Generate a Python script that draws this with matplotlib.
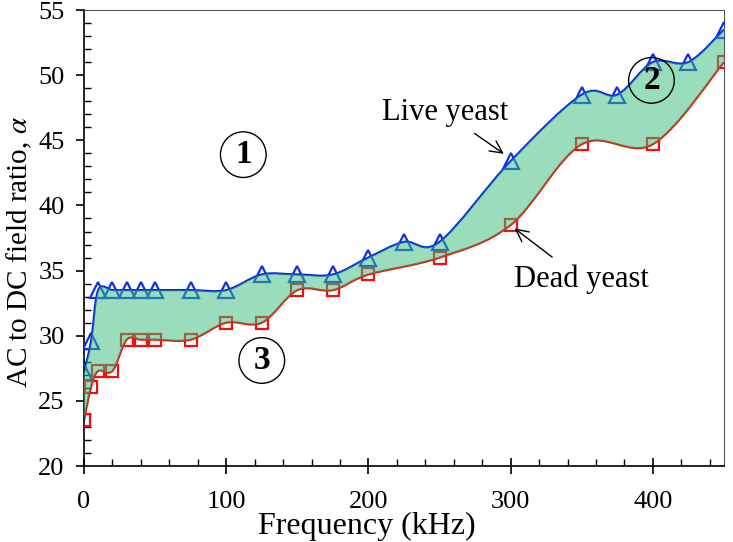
#!/usr/bin/env python3

import numpy as np
import matplotlib.pyplot as plt
from matplotlib.path import Path
from matplotlib.patches import PathPatch
from matplotlib.ticker import MultipleLocator

plt.rcParams.update({
    'font.family': 'Liberation Serif',
    'mathtext.fontset': 'stix',
})

# live yeast (triangles)
live_f = [0, 5, 10, 20, 30, 40, 50, 75, 100, 125, 150, 175, 200, 225, 250, 300, 350, 375, 400, 425, 450]
live_a = [27.2, 29.6, 33.5, 33.5, 33.5, 33.5, 33.5, 33.5, 33.5, 34.7, 34.7, 34.7, 36.0, 37.2, 37.2, 43.4, 48.5, 48.5, 51.0, 51.0, 53.5]

# dead yeast (squares)
dead_f = [0, 5, 10, 20, 30, 40, 50, 75, 100, 125, 150, 175, 200, 250, 300, 350, 400, 450]
dead_a = [23.5, 26.1, 27.3, 27.3, 29.7, 29.7, 29.7, 29.7, 31.0, 31.0, 33.5, 33.5, 34.7, 36.0, 38.5, 44.7, 44.7, 51.0]


def smooth_verts(xs, ys):
    # cubic bezier control points, spreadsheet style smoothing
    p = np.column_stack([xs, ys]).astype(float)
    n = len(p)
    verts = [p[0]]
    for i in range(n - 1):
        p0 = p[max(i - 1, 0)]
        p3 = p[min(i + 2, n - 1)]
        c1 = p[i] + (p[i + 1] - p0) / 6.0
        c2 = p[i + 1] - (p3 - p[i]) / 6.0
        verts += [c1, c2, p[i + 1]]
    return np.array(verts)


def curve_path(verts):
    codes = [Path.MOVETO] + [Path.CURVE4] * (len(verts) - 1)
    return Path(verts, codes)


fig = plt.figure(figsize=(7.33, 5.42), dpi=100)
ax = fig.add_axes([0.1146, 0.1402, 0.8731, 0.8413])

up = smooth_verts(live_f, live_a)
lo = smooth_verts(dead_f, dead_a)

ax.add_patch(PathPatch(curve_path(up), fill=False, edgecolor='#0a1ed2', lw=1.6, zorder=2))
ax.add_patch(PathPatch(curve_path(lo), fill=False, edgecolor='#d81e0a', lw=1.6, zorder=2))

ax.plot(live_f, live_a, ls='none', marker='^', ms=11, mfc='none', mec='#1030e8', mew=1.6, zorder=3)
ax.plot(dead_f, dead_a, ls='none', marker='s', ms=9, mfc='none', mec='#f01010', mew=1.6, zorder=3)

# shaded band between the two curves
band = np.vstack([up, lo[::-1]])
codes = ([Path.MOVETO] + [Path.CURVE4] * (len(up) - 1) +
         [Path.LINETO] + [Path.CURVE4] * (len(lo) - 1))
ax.add_patch(PathPatch(Path(band, codes), facecolor='#37bd7d', edgecolor='none', alpha=0.5, zorder=4))

ax.set_xlim(0, 450)
ax.set_ylim(20, 55)
ax.xaxis.set_major_locator(MultipleLocator(100))
ax.xaxis.set_minor_locator(MultipleLocator(20))
ax.yaxis.set_major_locator(MultipleLocator(5))
ax.yaxis.set_minor_locator(MultipleLocator(1))
ax.tick_params(axis='x', which='major', direction='inout', length=12, width=1.2, labelsize=19, pad=12)
ax.tick_params(axis='y', which='major', direction='out', length=6, width=1.2, labelsize=19, pad=8)
ax.tick_params(which='minor', direction='in', length=5, width=1.0)
ax.tick_params(top=False, right=False, which='both')
for s in ['top', 'right']:
    ax.spines[s].set_color('#555555')
    ax.spines[s].set_linewidth(0.8)
for s in ['left', 'bottom']:
    ax.spines[s].set_linewidth(1.2)

ax.set_xlabel('Frequency (kHz)', fontsize=23)
ax.xaxis.set_label_coords(0.442, -0.1)
ax.set_ylabel(r'AC to DC field ratio, $\alpha$', fontsize=21)
ax.yaxis.set_label_coords(-0.078, 0.47)

circ = dict(boxstyle='circle,pad=0.22', fc='white', ec='black', lw=1.0)
ax.text(112, 43.9, '1', fontsize=24, fontweight='bold', ha='center', va='center', bbox=circ, zorder=6)
ax.text(399, 49.6, '2', fontsize=24, fontweight='bold', ha='center', va='center',
        bbox=dict(boxstyle='circle,pad=0.22', fc='none', ec='black', lw=1.0), zorder=6)
ax.text(125, 28.1, '3', fontsize=24, fontweight='bold', ha='center', va='center', bbox=circ, zorder=6)

ax.annotate('Live yeast', xy=(296, 43.9), xytext=(254, 47.1), fontsize=22, ha='center', va='center',
            arrowprops=dict(arrowstyle='->', color='black', lw=1.0, shrinkA=4, shrinkB=1), zorder=6)
ax.annotate('Dead yeast', xy=(302, 38.3), xytext=(350, 34.3), fontsize=22, ha='center', va='center',
            arrowprops=dict(arrowstyle='->', color='black', lw=1.0, shrinkA=6, shrinkB=1), zorder=6)

plt.savefig('out.png', dpi=100)
plt.close()
